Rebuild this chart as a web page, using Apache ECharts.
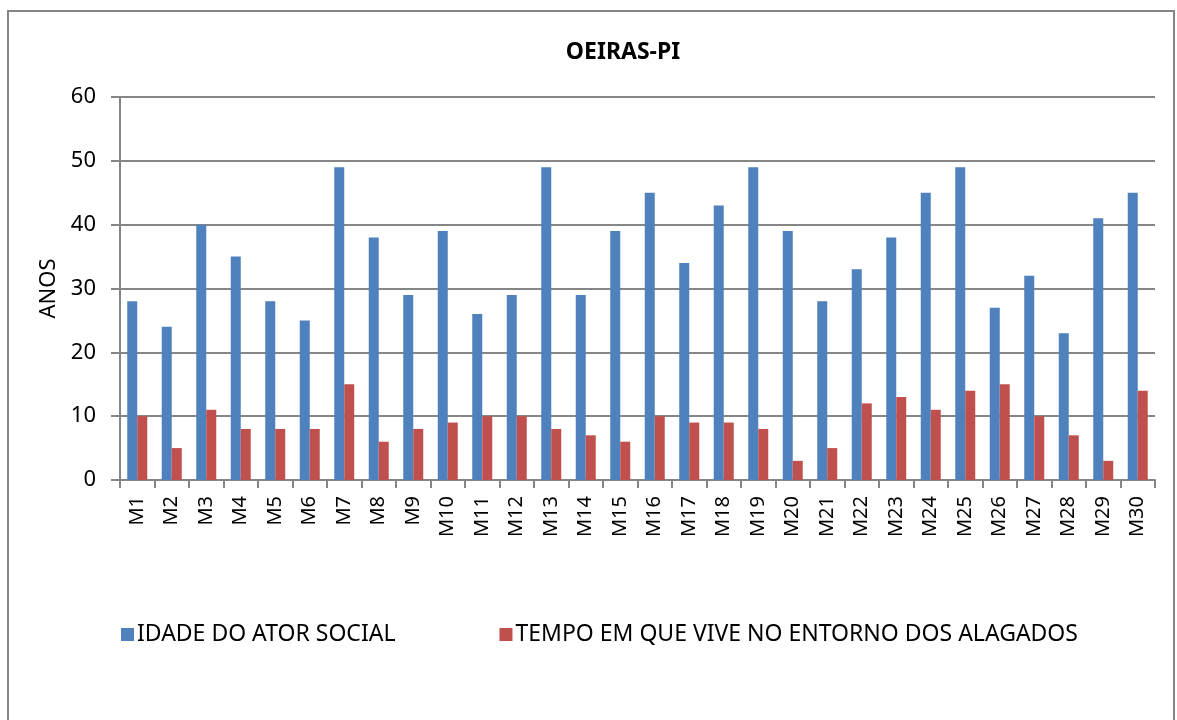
<!DOCTYPE html>
<html><head><meta charset="utf-8">
<script src="https://cdn.jsdelivr.net/npm/echarts@6/dist/echarts.min.js"></script>
<style>html,body{margin:0;padding:0;background:#fff}#c{width:1177px;height:720px}</style>
</head><body><div id="c"></div>
<script>
const categories = ['M1','M2','M3','M4','M5','M6','M7','M8','M9','M10','M11','M12','M13','M14','M15','M16','M17','M18','M19','M20','M21','M22','M23','M24','M25','M26','M27','M28','M29','M30'];
const idade = [28,24,40,35,28,25,49,38,29,39,26,29,49,29,39,45,34,43,49,39,28,33,38,45,49,27,32,23,41,45];
const tempo = [10,5,11,8,8,8,15,6,8,9,10,10,8,7,6,10,9,9,8,3,5,12,13,11,14,15,10,7,3,14];
const seriesNames = ['IDADE DO ATOR SOCIAL','TEMPO EM QUE VIVE NO ENTORNO DOS ALAGADOS'];
const yTicks = {min:0, max:60, interval:10};

const chart = echarts.init(document.getElementById('c'));
const font = '"Noto Sans", "Open Sans", sans-serif';
chart.setOption({
  animation:false,
  textStyle:{fontFamily:font},
  graphic:[{type:'rect',shape:{x:8,y:11,width:1166,height:720},style:{fill:'none',stroke:'#868686',lineWidth:2},silent:true}],
  title:{text:'OEIRAS-PI',left:618,top:36,textAlign:'center',textStyle:{fontFamily:font,fontWeight:'bold',fontSize:23,color:'#000'}},
  legend:{left:116,top:618,itemWidth:13,itemHeight:13,itemGap:104,icon:'rect',
    textStyle:{fontFamily:font,fontSize:23,color:'#000',padding:[0,0,0,-2]},
    data:seriesNames},
  grid:{left:120,right:22,top:97,bottom:240,containLabel:false},
  xAxis:{type:'category',data:categories,
    axisLine:{lineStyle:{color:'#868686',width:2}},
    axisTick:{show:true,length:8,lineStyle:{color:'#868686',width:2}},
    axisLabel:{rotate:90,color:'#000',fontSize:20,fontFamily:font,margin:16,interval:0}},
  yAxis:{type:'value',min:yTicks.min,max:yTicks.max,interval:yTicks.interval,
    name:'ANOS',nameLocation:'middle',nameGap:58,nameRotate:90,
    nameTextStyle:{color:'#000',fontSize:22,fontFamily:font},
    axisLine:{show:true,lineStyle:{color:'#868686',width:2}},
    axisTick:{show:true,length:9,lineStyle:{color:'#868686',width:2}},
    axisLabel:{color:'#000',fontSize:22,fontFamily:font,margin:24},
    splitLine:{lineStyle:{color:'#868686',width:2}}},
  series:[
    {name:seriesNames[0],type:'bar',data:idade,barWidth:10,barGap:'0%',itemStyle:{color:'#4F81BD'}},
    {name:seriesNames[1],type:'bar',data:tempo,barWidth:10,barGap:'0%',itemStyle:{color:'#C0504D'}}
  ]
});
</script></body></html>
